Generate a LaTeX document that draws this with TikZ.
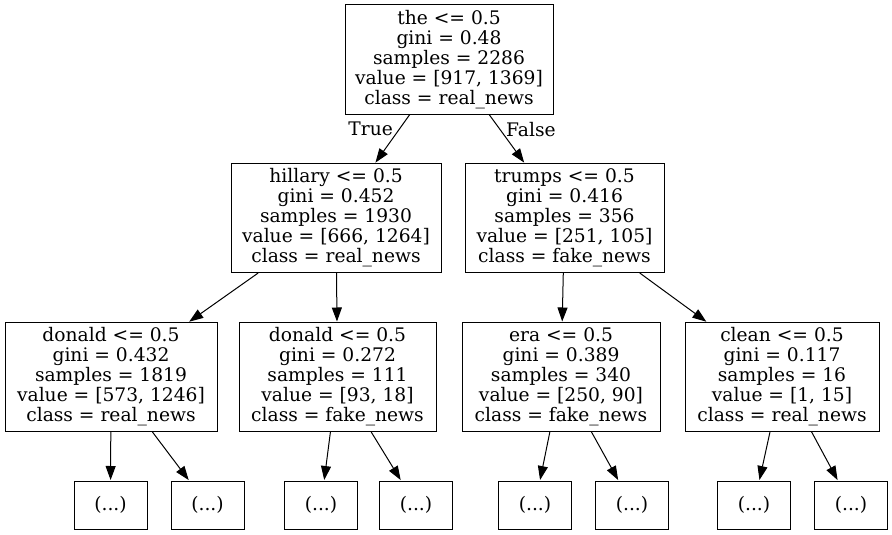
\documentclass[tikz,border=0pt]{standalone}
\usepackage{fontspec}
\setmainfont{DejaVu Serif}
\usetikzlibrary{arrows.meta}

\tikzset{
  split/.style={draw, line width=1pt, rectangle, align=center, inner sep=0pt, minimum height=109pt},
  stub/.style={draw, line width=1pt, rectangle, inner sep=0pt, minimum width=73pt, minimum height=48pt},
  edge/.style={line width=1pt, -{Triangle[length=14pt,width=10pt]}, shorten >=0.5pt}
}

\begin{document}
\begin{tikzpicture}[x=1pt, y=-1pt, font=\fontsize{18.67}{20}\selectfont]
                \useasboundingbox (0,0) rectangle (892,535);
                \node[split, minimum width=208pt] (the) at (449,59.5) {the <= 0.5\\gini = 0.48\\samples = 2286\\value = [917, 1369]\\class = real\_news};
                \node[split, minimum width=210pt] (hillary) at (336,218) {hillary <= 0.5\\gini = 0.452\\samples = 1930\\value = [666, 1264]\\class = real\_news};
                \node[split, minimum width=199pt] (trumps) at (564.5,218) {trumps <= 0.5\\gini = 0.416\\samples = 356\\value = [251, 105]\\class = fake\_news};
                \node[split, minimum width=212pt] (donaldA) at (111,377) {donald <= 0.5\\gini = 0.432\\samples = 1819\\value = [573, 1246]\\class = real\_news};
                \node[split, minimum width=197pt] (donaldB) at (337.5,377) {donald <= 0.5\\gini = 0.272\\samples = 111\\value = [93, 18]\\class = fake\_news};
                \node[split, minimum width=198pt] (era) at (561,377) {era <= 0.5\\gini = 0.389\\samples = 340\\value = [250, 90]\\class = fake\_news};
                \node[split, minimum width=194pt] (clean) at (782,377) {clean <= 0.5\\gini = 0.117\\samples = 16\\value = [1, 15]\\class = real\_news};
                \node[stub] (dA1) at (110.5,505) {(...)};
                \node[stub] (dA2) at (207.5,505) {(...)};
                \node[stub] (dB1) at (321,505) {(...)};
                \node[stub] (dB2) at (416,505) {(...)};
                \node[stub] (era1) at (535,505) {(...)};
                \node[stub] (era2) at (632,505) {(...)};
                \node[stub] (clean1) at (754,505) {(...)};
                \node[stub] (clean2) at (851,505) {(...)};
                \draw[edge] (the) -- node[pos=0.3, left, inner sep=6pt] {True} (hillary);
                \draw[edge] (the) -- node[pos=0.3, right, inner sep=6pt] {False} (trumps);
                \draw[edge] (hillary) -- (donaldA);
                \draw[edge] (hillary) -- (donaldB);
                \draw[edge] (trumps) -- (era);
                \draw[edge] (trumps) -- (clean);
                \draw[edge] (donaldA) -- (dA1);
                \draw[edge] (donaldA) -- (dA2);
                \draw[edge] (donaldB) -- (dB1);
                \draw[edge] (donaldB) -- (dB2);
                \draw[edge] (era) -- (era1);
                \draw[edge] (era) -- (era2);
                \draw[edge] (clean) -- (clean1);
                \draw[edge] (clean) -- (clean2);
            \end{tikzpicture}
\end{document}
